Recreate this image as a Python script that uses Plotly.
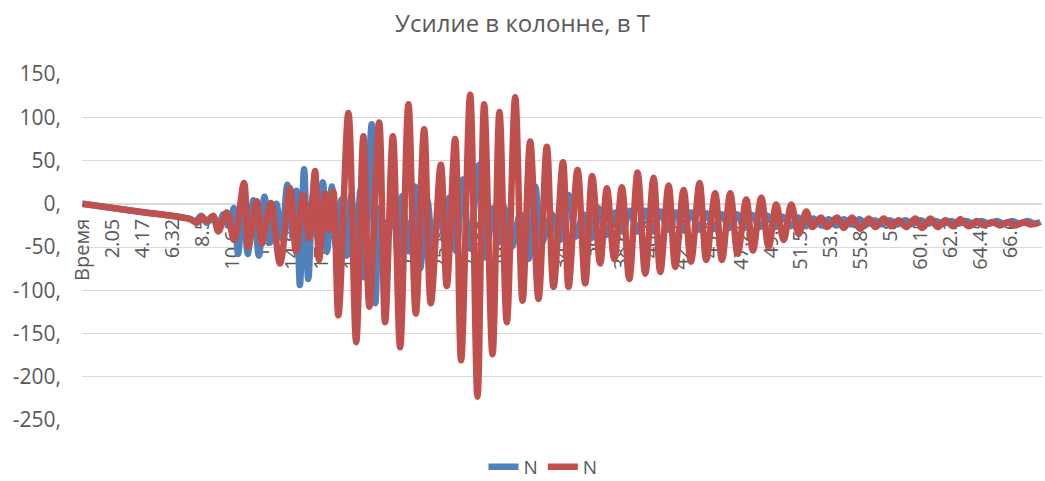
import plotly.graph_objects as go

# ---------------- data ----------------
x_labels = ["Время", "2.05", "4.17", "6.32", "8.5", "10.65", "12.8", "14.95", "17.08",
            "19.23", "21.38", "23.53", "25.68", "27.83", "29.98", "32.2", "34.35", "36.5",
            "38.65", "40.8", "42.95", "45.1", "47.25", "49.4", "51.55", "53.7", "55.85",
            "58", "60.15", "62.3", "64.45", "66.6", "68.8"]
start_time = -0.15

y_vals = [150, 100, 50, 0, -50, -100, -150, -200, -250]
y_labels = ["150,", "100,", "50,", "0,", "-50,", "-100,", "-150,", "-200,", "-250,"]

blue_t = [-0.15, 3.7, 7.5, 8.0, 8.4, 8.8, 9.2, 9.6, 10.0, 10.4, 10.75, 11.05, 11.4, 11.75, 12.15,
          12.55, 12.95, 13.35, 13.8, 14.2, 14.6, 15.0, 15.25, 15.5, 15.8, 16.1, 16.45, 16.8,
          17.15, 17.45, 17.8, 18.1, 18.5, 18.85, 19.2, 19.55, 19.85, 20.1, 20.4, 20.67, 20.93,
          21.25, 21.7, 22.2, 22.55, 22.85, 23.3, 23.8, 24.15, 24.65, 25.1, 25.55, 25.95, 26.25,
          26.75, 27.23, 27.7, 28.4, 28.83, 29.43, 29.75, 30.15, 30.75, 31.35, 31.95, 32.43,
          32.91, 33.63, 34.2, 34.83, 35.35, 35.9, 36.45, 36.97, 37.55, 38.2, 38.7, 39.25, 39.8,
          40.35, 40.9, 41.45, 42.0, 42.55, 43.1, 43.65, 44.2, 44.75, 45.3, 45.85, 46.4, 46.95,
          47.5, 48.05, 48.6, 49.15, 49.7, 50.25, 50.8, 51.35, 51.9, 52.45, 53.0, 53.55, 54.1,
          54.65, 55.2, 55.75, 56.3, 56.85, 57.4, 57.95, 58.5, 59.05, 59.6, 60.15, 60.7, 61.25,
          61.8, 62.35, 62.9, 63.45, 64.0, 64.55, 65.1, 65.65, 66.2, 66.75, 67.3, 67.85, 68.4,
          68.8]
blue_v = [0, -8.6, -17, -20, -14, -22, -15, -28, -12, -26, -5, -58, 8, -58, 4,
          -60, 8, -45, 0, -40, 22, -40, 15, -94, 40, -87, 10, -40,
          25, -55, 20, -50, 5, -60, 10, -70, 16, -85, 10, 92, -115,
          -5, -45, 0, -60, 9, -55, 20, -75, 5, -55, 2, -45, 7,
          -55, 28, -50, 45, -62, -5, -45, -3, -50, -12, -64, 20,
          -45, -12, -42, 10, -38, -12, -40, -5, -36, -10, -32, -8, -32,
          -8, -32, -9, -30, -10, -30, -10, -30, -11, -29, -12, -28, -12,
          -28, -13, -27, -14, -27, -15, -26, -16, -26, -17, -25, -18, -25,
          -18, -24, -18, -24, -19, -24, -19, -24, -19, -23, -19, -23, -20,
          -23, -20, -23, -20, -23, -20, -23, -20, -23, -20, -23, -20, -23,
          -21]

red_t = [-0.15, 3.7, 7.6, 8.08, 8.44, 8.8, 9.27, 9.63, 10.24, 10.76, 11.48, 11.79, 12.4, 12.76,
         13.4, 14.07, 14.79, 15.22, 15.73, 16.16, 16.59, 16.88, 17.31, 17.6, 17.91, 18.27,
         18.99, 19.55, 20.07, 20.5, 21.2, 21.63, 22.19, 22.71, 23.31, 23.84, 24.44, 24.92,
         25.64, 26.07, 26.67, 27.1, 27.75, 28.28, 28.76, 29.36, 29.86, 30.39, 30.99, 31.52,
         32.07, 32.67, 33.27, 33.75, 34.43, 34.83, 35.48, 36.03, 36.53, 37.11, 37.59, 38.12,
         38.67, 39.2, 39.8, 40.35, 40.95, 41.43, 42.03, 42.51, 43.11, 43.64, 44.26, 44.74,
         45.38, 45.87, 46.47, 47.0, 47.62, 48.1, 48.7, 49.23, 49.78, 50.31, 50.86, 51.39,
         51.94, 52.37, 53.0, 53.43, 54.15, 54.63, 55.23, 55.83, 56.43, 56.91, 57.51, 58.04,
         58.59, 59.14, 59.79, 60.27, 60.87, 61.39, 61.95, 62.5, 63.03, 63.63, 64.23, 64.71,
         65.31, 65.86, 66.43, 66.99, 67.54, 68.06, 68.67]
red_v = [0, -8.6, -18, -22, -15, -20, -14, -32, -10, -42, 24, -50, 3, -46,
         1, -69, 18, -55, 10, -40, 38, -65, 12, -30, 14, -129,
         105, -160, 78, -119, 94, -137, 78, -166, 115, -127, 86, -115,
         45, -95, 75, -181, 126, -223, 115, -174, 106, -137, 123, -112,
         72, -110, 66, -96, 48, -96, 39, -92, 32, -69, 18, -64,
         19, -87, 36, -81, 30, -79, 21, -73, 16, -67, 24, -65,
         12, -65, 12, -58, 5, -54, 7, -50, -1, -42, -1, -35,
         -9, -27, -16, -27, -16, -28, -16, -29, -17, -27, -17, -26,
         -19, -27, -17, -28, -17, -27, -19, -26, -18, -26, -20, -25,
         -21, -25, -21.5, -25, -21.5, -24, -22]

# ---------------- figure ----------------
FONT = "Open Sans, Noto Sans, sans-serif"
GREY = "#595959"

tick_pos = [start_time] + [float(s) for s in x_labels[1:]]

fig = go.Figure()
fig.add_trace(go.Scatter(x=blue_t, y=blue_v, mode="lines", name="N",
                         line=dict(color="#4F81BD", width=6.5, shape="spline")))
fig.add_trace(go.Scatter(x=red_t, y=red_v, mode="lines", name="N",
                         line=dict(color="#C0504D", width=6.5, shape="spline")))

ymin, ymax = -250, 150
fig.update_layout(
    template="none",
    width=1045, height=481,
    margin=dict(l=82, r=3, t=74, b=61, autoexpand=False),
    paper_bgcolor="white", plot_bgcolor="white",
    title=dict(text="Усилие в колонне, в Т", x=0.5, xanchor="center", xref="container",
               y=1 - 24 / 481, yanchor="middle", yref="container",
               font=dict(family=FONT, size=24, color=GREY)),
    showlegend=True,
    legend=dict(orientation="h", x=543 / 1045, xanchor="center", xref="container",
                y=(481 - 467) / 481, yanchor="middle", yref="container",
                font=dict(family=FONT, size=19, color=GREY), bgcolor="rgba(0,0,0,0)"),
    xaxis=dict(range=[-0.18, 68.9], anchor="free",
               position=(0 - ymin) / (ymax - ymin), automargin=False,
               tickmode="array", tickvals=tick_pos, ticktext=x_labels,
               tickangle=-90, showgrid=False, zeroline=False,
               showline=True, linecolor="#d9d9d9", linewidth=1,
               ticks="", ticklabelstandoff=6, layer="below traces",
               tickfont=dict(family=FONT, size=20, color=GREY)),
    yaxis=dict(range=[ymin, ymax], tickmode="array", tickvals=y_vals, ticktext=y_labels,
               automargin=False,
               showgrid=True, gridcolor="#d9d9d9", gridwidth=1, zeroline=False,
               showline=False, ticks="", ticklabelstandoff=20,
               tickfont=dict(family=FONT, size=21, color=GREY)),
)

fig.write_html("out.html", config={"displayModeBar": False},
               post_script="document.body.style.margin='0';document.body.style.overflow='hidden';")
